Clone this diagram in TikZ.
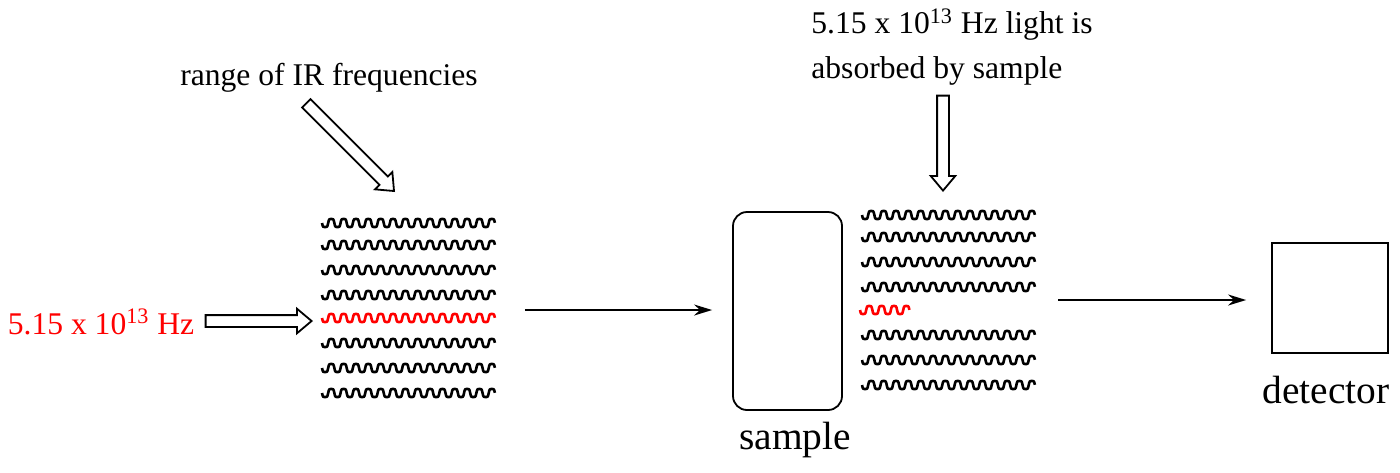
\documentclass[tikz,border=0pt]{standalone}
\usepackage{fontspec}
\setmainfont{Liberation Serif}
\usetikzlibrary{arrows.meta,shapes.arrows}
\begin{document}
\begin{tikzpicture}[x=0.5pt,y=-0.5pt,
    wave/.style={line width=1.3pt},
    hollow/.style={single arrow, draw, line width=0.9pt, inner sep=2.5pt, minimum width=0pt,
      single arrow head extend=3.2pt, single arrow tip angle=80},
    flow/.style={line width=0.9pt, -{Stealth[length=9pt,width=5.5pt]}},
    lbl/.style={font=\fontsize{15.8}{22.5}\selectfont, inner sep=0pt},
    big/.style={font=\fontsize{19.7}{24}\selectfont, inner sep=0pt}]
    \useasboundingbox (0,0) rectangle (1400,472);
    \node[lbl] (rangelbl) at (329,78) {range of IR frequencies};
    \node[hollow, rotate=-45, anchor=tip, minimum height=62pt] (rangearrow) at (395,192) {};
    \node[lbl, text=red] (hzlbl) at (101,322) {5.15 x 10\textsuperscript{13} Hz};
    \node[hollow, anchor=tip, minimum height=53pt] (hzarrow) at (313,321) {};
    \node[inner sep=0pt, minimum width=86.5pt, minimum height=85pt] (beam) at (408,310) {};
    \foreach \r in {223,245,270,295,343,368,393}
      \draw[wave] plot[domain=0:14, samples=281] ({322+12.35*\x},{\r+4*tanh(2.5*sin(360*\x))/tanh(2.5)});
    \draw[wave, red] plot[domain=0:14, samples=281] ({322+12.35*\x},{318+4*tanh(2.5*sin(360*\x))/tanh(2.5)});
    \node[draw, line width=0.9pt, rounded corners=7pt, minimum width=54.5pt, minimum height=99pt] (sample) at (787.5,311) {};
    \node[big] (samplelbl) at (795,440) {sample};
    \draw[flow, shorten <=15pt, shorten >=10pt] (beam.east) -- (beam.east -| sample.west);
    \node[lbl, align=left, anchor=west] (absorblbl) at (811,47) {5.15 x 10\textsuperscript{13} Hz light is\\absorbed by sample};
    \node[hollow, rotate=-90, anchor=tip, minimum height=47.5pt] (absorbarrow) at (943,192) {};
    \node[inner sep=0pt, minimum width=86.5pt, minimum height=85pt] (trans) at (948.5,300) {};
    \foreach \r in {215,237,262,287,335,360,385}
      \draw[wave] plot[domain=0:14, samples=281] ({862+12.35*\x},{\r+4*tanh(2.5*sin(360*\x))/tanh(2.5)});
    \draw[wave, red] plot[domain=0:4, samples=81] ({860+12.35*\x},{310+4*tanh(2.5*sin(360*\x))/tanh(2.5)});
    \node[draw, line width=0.9pt, minimum width=58pt, minimum height=55pt] (detector) at (1330,298) {};
    \node[big] (detectorlbl) at (1326,390) {detector};
    \draw[flow, shorten <=11.5pt, shorten >=12.5pt] (trans.east) -- (trans.east -| detector.west);
\end{tikzpicture}
\end{document}
